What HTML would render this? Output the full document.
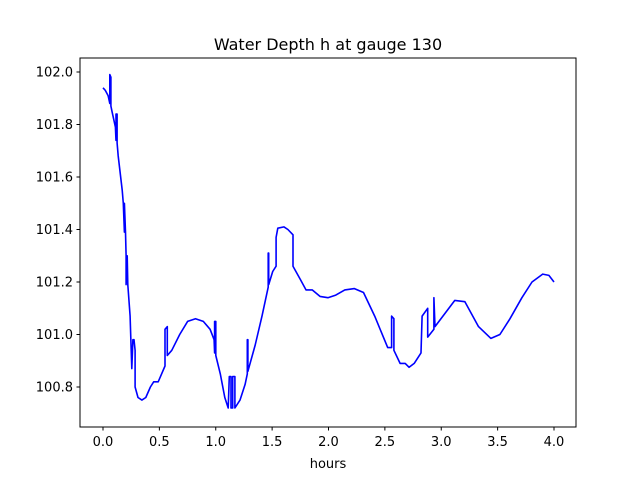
<!DOCTYPE html>
<html><head><meta charset="utf-8"><style>
body{margin:0;background:#fff}
text{font-family:"DejaVu Sans","Liberation Sans",sans-serif}
</style></head><body>
<svg id="chart" width="640" height="480" xmlns="http://www.w3.org/2000/svg">
<rect width="640" height="480" fill="#fff"/>
<text x="328" y="50" text-anchor="middle" font-size="16">Water Depth h at gauge 130</text>
<g id="ticks"></g>
<path id="line" fill="none" stroke="#0000ff" stroke-width="1.6" stroke-linejoin="round"/>
<rect x="80" y="58" width="496" height="369" fill="none" stroke="#000" stroke-width="1"/>
<text x="328" y="468" text-anchor="middle" font-size="13">hours</text>
</svg>
<script>
const hours=[0,0.02,0.045,0.06,0.06,0.07,0.07,0.08,0.11,0.115,0.115,0.125,0.125,0.135,0.17,0.18,0.19,0.19,0.2,0.205,0.205,0.215,0.22,0.24,0.25,0.255,0.265,0.275,0.285,0.285,0.31,0.345,0.38,0.42,0.45,0.49,0.52,0.55,0.55,0.57,0.57,0.61,0.68,0.75,0.82,0.89,0.95,0.985,0.99,0.99,1.0,1.0,1.04,1.08,1.11,1.12,1.135,1.135,1.15,1.15,1.17,1.17,1.215,1.26,1.28,1.28,1.285,1.285,1.35,1.41,1.465,1.465,1.47,1.47,1.505,1.535,1.535,1.55,1.605,1.64,1.685,1.685,1.75,1.8,1.855,1.925,1.995,2.065,2.145,2.23,2.31,2.41,2.525,2.56,2.56,2.58,2.58,2.635,2.68,2.715,2.76,2.82,2.83,2.88,2.88,2.935,2.935,2.945,3.12,3.21,3.33,3.44,3.52,3.61,3.715,3.805,3.9,3.955,4.0];
const depth=[101.94,101.93,101.91,101.88,101.99,101.98,101.87,101.85,101.79,101.74,101.84,101.84,101.73,101.68,101.55,101.5,101.39,101.5,101.39,101.3,101.19,101.3,101.19,101.07,100.94,100.87,100.98,100.98,100.94,100.8,100.76,100.75,100.76,100.8,100.82,100.82,100.85,100.88,101.02,101.03,100.92,100.94,101.0,101.05,101.06,101.05,101.02,100.98,100.93,101.05,101.05,100.92,100.85,100.76,100.72,100.84,100.84,100.72,100.72,100.84,100.84,100.72,100.75,100.81,100.85,100.98,100.98,100.86,100.96,101.07,101.18,101.31,101.31,101.19,101.24,101.26,101.37,101.405,101.41,101.4,101.38,101.26,101.21,101.17,101.17,101.145,101.14,101.15,101.17,101.175,101.16,101.07,100.95,100.95,101.07,101.06,100.94,100.89,100.89,100.875,100.89,100.93,101.07,101.1,100.99,101.02,101.14,101.03,101.13,101.125,101.03,100.985,101.0,101.06,101.14,101.2,101.23,101.225,101.2];
const xTicks=["0.0","0.5","1.0","1.5","2.0","2.5","3.0","3.5","4.0"];
const yTicks=["100.8","101.0","101.2","101.4","101.6","101.8","102.0"];
const X=v=>103+(v-0)*112.75;
const Y=v=>72+(102-v)*262.5;
const NS="http://www.w3.org/2000/svg";
const g=document.getElementById('ticks');
function mk(tag,attrs){const e=document.createElementNS(NS,tag);for(const k in attrs)e.setAttribute(k,attrs[k]);g.appendChild(e);return e;}
xTicks.forEach(t=>{const x=X(parseFloat(t));
const l=mk('line',{x1:x,x2:x,y1:427,y2:430.5,stroke:'#000'});


const tx=mk('text',{x:x,y:446,'text-anchor':'middle','font-size':'13'});tx.textContent=t;

});
yTicks.forEach(t=>{const y=Y(parseFloat(t));
const l=mk('line',{x1:76.5,x2:80,y1:y,y2:y,stroke:'#000'});


const tx=mk('text',{x:73,y:y+4.5,'text-anchor':'end','font-size':'13'});tx.textContent=t;

});
document.getElementById('line').setAttribute('d',hours.map((h,i)=>(i?'L':'M')+X(h).toFixed(1)+','+Y(depth[i]).toFixed(1)).join(''));
</script>
</body></html>
